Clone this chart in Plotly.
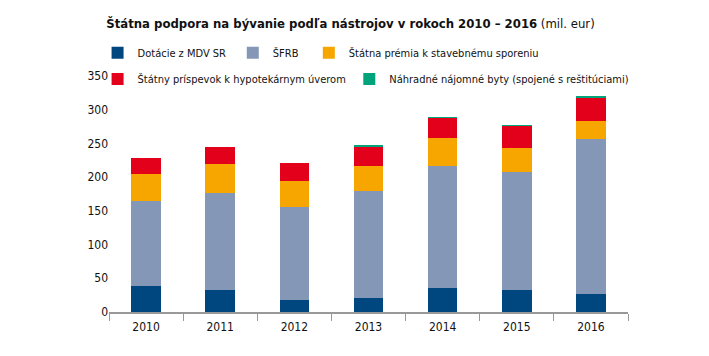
import plotly.graph_objects as go

years = ["2010", "2011", "2012", "2013", "2014", "2015", "2016"]
dotacie = [38, 33, 18, 21, 36, 33, 26]
sfrb = [126, 143, 137, 158, 181, 174, 230]
premia = [41, 43, 39, 38, 41, 36, 27]
prispevok = [24, 26, 27, 29, 30, 33, 35]
nahradne = [0, 0, 0, 1.5, 1, 1, 1]

names = ["Dotácie z MDV SR", "ŠFRB", "Štátna prémia k stavebnému sporeniu",
         "Štátny príspevok k hypotekárnym úverom", "Náhradné nájomné byty (spojené s reštitúciami)"]
colors = ["#00467f", "#8497b7", "#f7a600", "#e3001b", "#00a37a"]
series = [dotacie, sfrb, premia, prispevok, nahradne]
legend_ids = ["legend", "legend2", "legend3", "legend4", "legend5"]
legend_pos = [(-0.022, 1.098), (0.2385, 1.098), (0.385, 1.098), (-0.022, 0.9875), (0.463, 0.9875)]

FONT = "DejaVu Sans Condensed, Roboto, sans-serif"

fig = go.Figure()
for n, c, v, lg in zip(names, colors, series, legend_ids):
    fig.add_trace(go.Bar(x=years, y=v, name=n, legend=lg,
                         marker=dict(color=c, line=dict(width=0))))

legends = {}
for lg, (lx, ly) in zip(legend_ids, legend_pos):
    legends[lg] = dict(orientation="h", xref="paper", yref="paper", x=lx, y=ly,
                       xanchor="left", yanchor="middle",
                       font=dict(family=FONT, size=11, color="#111"), itemwidth=30,
                       bgcolor="rgba(0,0,0,0)")

fig.update_layout(
    barmode="stack",
    bargap=0.6,
    width=709, height=356,
    margin=dict(l=109, r=81, t=76, b=44, autoexpand=False),
    paper_bgcolor="white", plot_bgcolor="white",
    font=dict(family=FONT, size=12, color="#111"),
    title=dict(text="<b>Štátna podpora na bývanie podľa nástrojov v rokoch 2010 – 2016</b> (mil. eur)",
               x=0.4944, xanchor="center", y=0.935, yanchor="middle",
               font=dict(family=FONT, size=13, color="#111")),
    showlegend=True,
    **legends,
)
fig.update_xaxes(type="category", showline=True, linecolor="#999", linewidth=1.5,
                 ticks="outside", tickson="boundaries", ticklen=7, tickcolor="#999",
                 ticklabelstandoff=3,
                 tickfont=dict(family=FONT, size=12), showgrid=False)
fig.update_yaxes(range=[0, 350], dtick=50, showgrid=False, zeroline=False, showline=False,
                 tickfont=dict(family=FONT, size=12), ticks="")

fig.write_html("out.html", config={"displayModeBar": False},
               post_script="document.body.style.margin='0px';")
